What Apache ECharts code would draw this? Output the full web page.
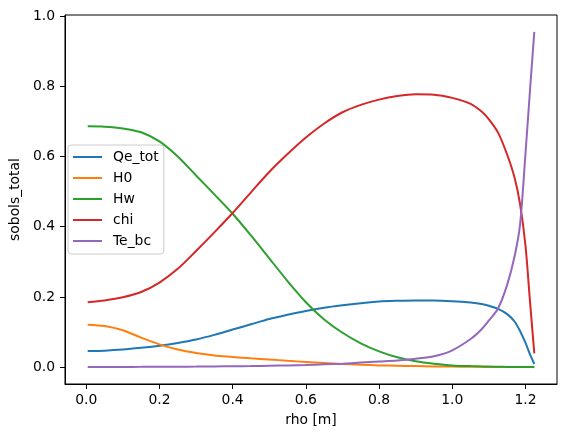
<!DOCTYPE html>
<html>
<head>
<meta charset="utf-8">
<script src="https://cdn.jsdelivr.net/npm/echarts@6/dist/echarts.min.js"></script>
<style>html,body{margin:0;padding:0;background:#fff}#c{width:567px;height:437px}</style>
</head>
<body>
<div id="c"></div>
<script>
var rho = [0.004, 0.05, 0.1, 0.15, 0.2, 0.25, 0.3, 0.35, 0.4, 0.45, 0.5, 0.55, 0.6, 0.65, 0.7, 0.75, 0.8, 0.85, 0.9, 0.95, 1.0, 1.05, 1.08, 1.1, 1.125, 1.15, 1.17, 1.185, 1.2, 1.212, 1.224];
var Qe_tot = [0.046, 0.047, 0.050, 0.055, 0.061, 0.069, 0.079, 0.092, 0.107, 0.122, 0.137, 0.149, 0.160, 0.169, 0.176, 0.182, 0.187, 0.189, 0.190, 0.190, 0.188, 0.184, 0.180, 0.175, 0.166, 0.151, 0.130, 0.103, 0.069, 0.037, 0.009];
var H0 = [0.121, 0.117, 0.105, 0.084, 0.065, 0.050, 0.040, 0.033, 0.029, 0.025, 0.022, 0.018, 0.015, 0.012, 0.009, 0.007, 0.005, 0.004, 0.003, 0.002, 0.0015, 0.001, 0.0008, 0.0006, 0.0005, 0.0004, 0.0003, 0.0002, 0.0001, 0.0001, 0.0];
var Hw = [0.686, 0.685, 0.680, 0.669, 0.643, 0.600, 0.546, 0.492, 0.437, 0.375, 0.310, 0.245, 0.185, 0.136, 0.098, 0.068, 0.045, 0.028, 0.017, 0.010, 0.005, 0.003, 0.002, 0.0015, 0.001, 0.0007, 0.0005, 0.0004, 0.0003, 0.0002, 0.0001];
var chi = [0.185, 0.190, 0.199, 0.214, 0.241, 0.280, 0.331, 0.384, 0.439, 0.498, 0.556, 0.607, 0.654, 0.694, 0.726, 0.747, 0.762, 0.772, 0.777, 0.776, 0.767, 0.750, 0.728, 0.706, 0.668, 0.605, 0.540, 0.465, 0.345, 0.190, 0.039];
var Te_bc = [0.0005, 0.0006, 0.0007, 0.0008, 0.001, 0.0012, 0.0015, 0.002, 0.0025, 0.003, 0.004, 0.005, 0.006, 0.008, 0.010, 0.013, 0.016, 0.019, 0.024, 0.031, 0.048, 0.080, 0.108, 0.133, 0.167, 0.235, 0.315, 0.405, 0.610, 0.785, 0.955];
var xTicks = [0.0, 0.2, 0.4, 0.6, 0.8, 1.0, 1.2];
var yTicks = [0.0, 0.2, 0.4, 0.6, 0.8, 1.0];

var names = ['Qe_tot', 'H0', 'Hw', 'chi', 'Te_bc'];
var values = [Qe_tot, H0, Hw, chi, Te_bc];
var colors = ['#1f77b4', '#ff7f0e', '#2ca02c', '#d62728', '#9467bd'];
var font = 'DejaVu Sans';
var fs = 13.9;

function pairs(ys) { return rho.map(function (x, i) { return [x, ys[i]]; }); }

var chart = echarts.init(document.getElementById('c'), null, {renderer: 'canvas'});
chart.setOption({
  animation: false,
  backgroundColor: '#ffffff',
  textStyle: {fontFamily: font},
  grid: {left: 61.5, top: 15, right: 10, bottom: 53, show: true, borderColor: '#000', borderWidth: 1, backgroundColor: 'transparent'},
  xAxis: {
    type: 'value', min: -0.058, max: 1.286,
    name: 'rho [m]', nameLocation: 'middle', nameGap: 29,
    nameTextStyle: {fontFamily: font, fontSize: fs, color: '#000'},
    axisLine: {show: true, onZero: false, lineStyle: {color: '#000', width: 1}},
    axisTick: {show: true, length: 5, inside: false, customValues: xTicks, lineStyle: {color: '#000', width: 1}},
    axisLabel: {customValues: xTicks, margin: 9, fontFamily: font, fontSize: fs, color: '#000', formatter: function (v) { return v.toFixed(1); }},
    splitLine: {show: false}
  },
  yAxis: {
    type: 'value', min: -0.048, max: 1.003,
    name: 'sobols_total', nameLocation: 'middle', nameGap: 40,
    nameTextStyle: {fontFamily: font, fontSize: fs, color: '#000'},
    axisLine: {show: true, onZero: false, lineStyle: {color: '#000', width: 1}},
    axisTick: {show: true, length: 5, inside: false, customValues: yTicks, lineStyle: {color: '#000', width: 1}},
    axisLabel: {customValues: yTicks, margin: 10, fontFamily: font, fontSize: fs, color: '#000', formatter: function (v) { return v.toFixed(1); }},
    splitLine: {show: false}
  },
  legend: {
    orient: 'vertical', left: 68, top: 145,
    padding: [5, 5, 6, 5],
    icon: 'rect',
    itemWidth: 29, itemHeight: 2, itemGap: 7,
    backgroundColor: 'rgba(255,255,255,0.8)', borderColor: '#cccccc', borderWidth: 1, borderRadius: 3,
    textStyle: {fontFamily: font, fontSize: fs, color: '#000', lineHeight: 14, padding: [0, 0, 0, 6]},
    data: names
  },
  series: names.map(function (n, i) {
    return {
      name: n, type: 'line', data: pairs(values[i]),
      symbol: 'none', smooth: 0.3,
      lineStyle: {color: colors[i], width: 2},
      itemStyle: {color: colors[i]},
      z: 2 + i
    };
  })
});
</script>
</body>
</html>
